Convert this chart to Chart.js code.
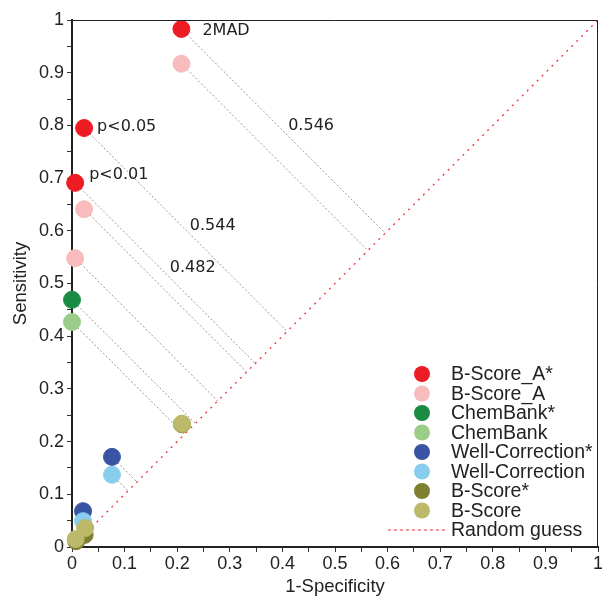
<!DOCTYPE html>
<html>
<head>
<meta charset="utf-8">
<script src="https://cdn.jsdelivr.net/npm/chart.js@4.4.0/dist/chart.umd.min.js"></script>
<style>
html, body { margin: 0; padding: 0; background: #fff; }
#wrap { width: 602px; height: 598px; }
</style>
</head>
<body>
<div id="wrap"><canvas id="rocChart" width="602" height="598"></canvas></div>
<script>
// series names, in legend order
const seriesNames = ["B-Score_A*", "B-Score_A", "ChemBank*", "ChemBank",
    "Well-Correction*", "Well-Correction", "B-Score*", "B-Score"];
const seriesColors = ["#ed1c24", "#f8bcbc", "#1b8a43", "#99cd88",
    "#3a54a4", "#88cdee", "#7f7f30", "#bdb96b"];

// 1-specificity (x) and sensitivity (y) per series
const bScoreAStarX = [0.208, 0.023, 0.006];
const bScoreAStarY = [0.983, 0.795, 0.691];
const bScoreAX = [0.208, 0.023, 0.006];
const bScoreAY = [0.917, 0.641, 0.548];
const chemBankStarX = [0.000];
const chemBankStarY = [0.469];
const chemBankX = [0.000];
const chemBankY = [0.427];
const wellCorrStarX = [0.076, 0.021];
const wellCorrStarY = [0.171, 0.068];
const wellCorrX = [0.076, 0.021];
const wellCorrY = [0.137, 0.049];
const bScoreStarX = [0.209, 0.024, 0.008];
const bScoreStarY = [0.233, 0.023, 0.011];
const bScoreX = [0.209, 0.025, 0.007];
const bScoreY = [0.234, 0.036, 0.015];

const seriesX = [bScoreAStarX, bScoreAX, chemBankStarX, chemBankX, wellCorrStarX, wellCorrX, bScoreStarX, bScoreX];
const seriesY = [bScoreAStarY, bScoreAY, chemBankStarY, chemBankY, wellCorrStarY, wellCorrY, bScoreStarY, bScoreY];

// how many leading points of each series get a dotted drop line to the diagonal
const dropCount = [3, 3, 1, 1, 1, 1, 0, 0];

// text next to the B-Score_A* points
const pointNotes = ["2MAD", "p<0.05", "p<0.01"];

// gap values written between the drop lines
const gapLabels = ["0.546", "0.544", "0.482"];
const gapLabelX = [0.411, 0.224, 0.186];
const gapLabelY = [0.799, 0.609, 0.529];

const tickLabels = ["0", "0.1", "0.2", "0.3", "0.4", "0.5", "0.6", "0.7", "0.8", "0.9", "1"];

const datasets = [];

// drop lines from the points to the random guess diagonal
seriesX.forEach((xs, s) => {
    for (let i = 0; i < dropCount[s]; i++) {
        const m = (xs[i] + seriesY[s][i]) / 2;
        datasets.push({
            type: "line",
            data: [{ x: xs[i], y: seriesY[s][i] }, { x: m, y: m }],
            borderColor: "#999999",
            borderWidth: 1,
            borderDash: [2, 2],
            pointRadius: 0,
            fill: false,
            order: 30
        });
    }
});

datasets.push({
    type: "line",
    label: "Random guess",
    data: [{ x: 0, y: 0 }, { x: 1, y: 1 }],
    borderColor: "#ee3333",
    borderWidth: 1.3,
    borderDash: [2, 5],
    pointRadius: 0,
    fill: false,
    order: 20,
    inLegend: true
});

seriesNames.forEach((name, s) => {
    datasets.push({
        type: "scatter",
        label: name,
        data: seriesX[s].map((x, i) => ({ x: x, y: seriesY[s][i] })),
        backgroundColor: seriesColors[s],
        borderColor: seriesColors[s],
        pointRadius: 8.5,
        pointHoverRadius: 8.5,
        clip: false,
        order: 10 - s,
        inLegend: true
    });
});

// box around the plot area
const framePlugin = {
    id: "frame",
    afterDatasetsDraw(chart) {
        const a = chart.chartArea;
        const ctx = chart.ctx;
        ctx.save();
        ctx.strokeStyle = "#222";
        ctx.lineWidth = 1;
        ctx.beginPath();
        ctx.moveTo(a.left, a.top + 0.5);
        ctx.lineTo(a.right - 0.5, a.top + 0.5);
        ctx.lineTo(a.right - 0.5, a.bottom);
        ctx.stroke();
        ctx.restore();
    }
};

// texts placed on the plot
const notesPlugin = {
    id: "notes",
    afterDatasetsDraw(chart) {
        const ctx = chart.ctx;
        const xs = chart.scales.x, ys = chart.scales.y;
        const offsets = [[21, 2], [13, -1], [14, -8]];
        ctx.save();
        ctx.fillStyle = "#222";
        ctx.font = "16px 'DejaVu Sans'";
        ctx.textAlign = "left";
        ctx.textBaseline = "middle";
        pointNotes.forEach((t, i) => {
            ctx.fillText(t, xs.getPixelForValue(bScoreAStarX[i]) + offsets[i][0],
                ys.getPixelForValue(bScoreAStarY[i]) + offsets[i][1]);
        });
        gapLabels.forEach((t, i) => {
            ctx.fillText(t, xs.getPixelForValue(gapLabelX[i]), ys.getPixelForValue(gapLabelY[i]));
        });
        ctx.restore();
    }
};

// legend inside the lower right corner
const legendPlugin = {
    id: "insideLegend",
    afterDraw(chart) {
        const ctx = chart.ctx;
        const a = chart.chartArea;
        const items = chart.data.datasets.filter(d => d.inLegend && d.type === "scatter");
        const guess = chart.data.datasets.find(d => d.label === "Random guess");
        const rowH = 19.5;
        const markX = a.right - 176;
        const textX = a.right - 147;
        let y = a.bottom - 17 - rowH * items.length;
        ctx.save();
        ctx.font = "19.5px 'Liberation Sans', Arial, sans-serif";
        ctx.textBaseline = "middle";
        ctx.fillStyle = "#222";
        items.forEach(d => {
            ctx.beginPath();
            ctx.fillStyle = d.backgroundColor;
            ctx.arc(markX, y, 8, 0, Math.PI * 2);
            ctx.fill();
            ctx.fillStyle = "#222";
            ctx.fillText(d.label, textX, y + 1);
            y += rowH;
        });
        ctx.strokeStyle = guess.borderColor;
        ctx.lineWidth = 1;
        ctx.setLineDash([3, 3]);
        ctx.beginPath();
        ctx.moveTo(textX - 63, y);
        ctx.lineTo(textX - 3, y);
        ctx.stroke();
        ctx.setLineDash([]);
        ctx.fillText(guess.label, textX, y + 1);
        ctx.restore();
    }
};

const tickText = v => {
    const k = Math.round(v * 20);
    return k % 2 === 0 ? tickLabels[k / 2] : "";
};

const axisFont = { family: "'Liberation Sans', Arial, sans-serif", size: 18 };
const titleFont = { family: "'Liberation Sans', Arial, sans-serif", size: 18.5 };

new Chart(document.getElementById("rocChart").getContext("2d"), {
    type: "scatter",
    data: { datasets },
    options: {
        responsive: false,
        animation: false,
        layout: { autoPadding: false, padding: { top: 20, right: 4, left: 0, bottom: 0 } },
        plugins: {
            legend: { display: false },
            tooltip: { enabled: false }
        },
        scales: {
            x: {
                type: "linear",
                min: 0,
                max: 1,
                afterFit: scale => {
                    scale.height = 51;
                    scale.paddingLeft = 0;
                    scale.paddingRight = 0;
                },
                ticks: {
                    stepSize: 0.05,
                    autoSkip: false,
                    maxRotation: 0,
                    padding: 1,
                    color: "#222",
                    font: axisFont,
                    callback: tickText
                },
                grid: { drawOnChartArea: false, tickLength: 5, color: "#333" },
                border: { color: "#222", width: 2 },
                title: {
                    display: true,
                    text: "1-Specificity",
                    color: "#222",
                    font: titleFont,
                    padding: { top: 2, bottom: 0 }
                }
            },
            y: {
                type: "linear",
                min: 0,
                max: 1,
                afterFit: scale => {
                    scale.width = 72;
                    scale.paddingTop = 0;
                    scale.paddingBottom = 0;
                },
                ticks: {
                    stepSize: 0.05,
                    autoSkip: false,
                    padding: 3,
                    color: "#222",
                    font: axisFont,
                    callback: tickText
                },
                grid: { drawOnChartArea: false, tickLength: 5, color: "#333" },
                border: { color: "#222", width: 2 },
                title: {
                    display: true,
                    text: "Sensitivity",
                    color: "#222",
                    font: titleFont,
                    padding: { top: 10, bottom: 0 }
                }
            }
        }
    },
    plugins: [framePlugin, notesPlugin, legendPlugin]
});
</script>
</body>
</html>
